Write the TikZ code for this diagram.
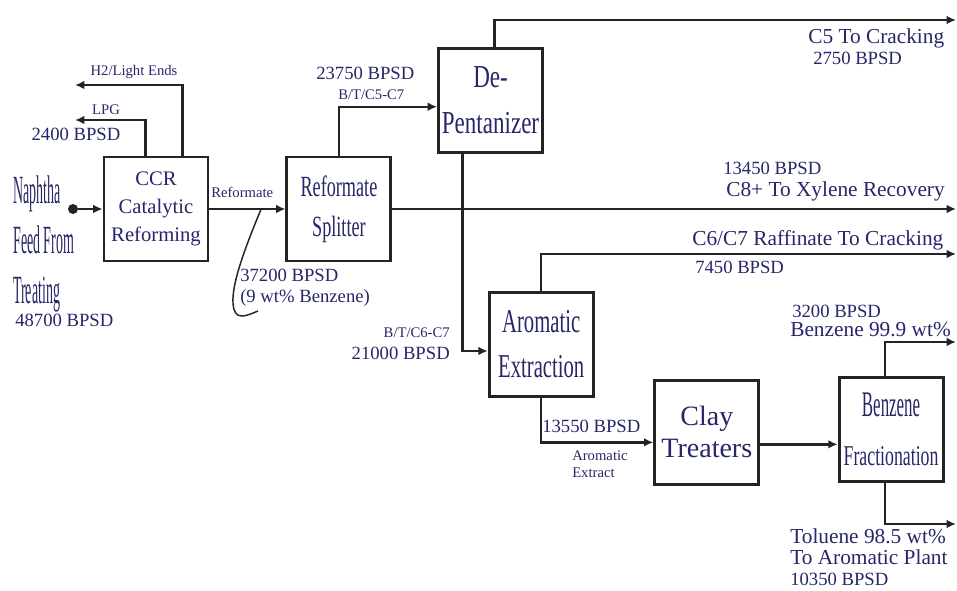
\documentclass[tikz,border=0pt]{standalone}
\usepackage{fontspec}
\setmainfont{Liberation Serif}
\newfontfamily\narrowfont[FakeStretch=0.62]{Liberation Serif}
\newfontfamily\midfont[FakeStretch=0.72]{Liberation Serif}
\newfontfamily\slimfont[FakeStretch=0.47]{Liberation Serif}
\newfontfamily\feedfont[FakeStretch=0.35]{Liberation Serif}
\usetikzlibrary{positioning,calc,arrows.meta}
\definecolor{ink}{RGB}{38,38,105}
\definecolor{pipe}{RGB}{35,35,35}
\tikzset{
	box/.style = {
		draw = pipe,
		fill = white,
		rectangle,
		line width = 2.2pt,
		text = ink,
		align = center,
		inner sep = 0pt,
		minimum height = 78pt,
		minimum width = 78pt
	},
	flow/.style = {
		draw = pipe,
		line width = 1.8pt,
		-{Latex[length=7pt,width=6.5pt]}
	},
	tag/.style = {text = ink, inner sep = 0pt, font = \fontsize{14}{16}\selectfont},
	stream/.style = {text = ink, inner sep = 0pt, font = \fontsize{16}{18}\selectfont},
	note/.style = {text = ink, inner sep = 0pt, font = \fontsize{11}{12.75}\selectfont}
}
\begin{document}
\begin{tikzpicture}[x=0.75pt, y=-0.75pt]
    \useasboundingbox (0,0) rectangle (957,591);

    \node [box, font=\fontsize{15.5}{21}\selectfont] (ccr) at (156,209) {CCR\\Catalytic\\Reforming} ;
    \node [box, right = 57pt of ccr, font=\narrowfont\fontsize{22}{30}\selectfont] (splitter) {Reformate\\Splitter} ;
    \node [box, above right = 1.5pt and 33.5pt of splitter, font=\midfont\fontsize{24}{35}\selectfont] (depent) {De-\\Pentanizer} ;
    \node [box, below = 103pt of depent, xshift = 38pt, font=\narrowfont\fontsize{25}{34}\selectfont] (extraction) {Aromatic\\Extraction} ;
    \node [box, right = 44pt of extraction, yshift = -66pt, font=\fontsize{21}{24}\selectfont] (clay) {Clay\\Treaters} ;
    \node [box, right = 58pt of clay, yshift = 2pt, font=\narrowfont\fontsize{21.5}{37}\selectfont] (benzene) {{\slimfont\fontsize{27}{37}\selectfont Benzene}\\Fractionation} ;

    \node [circle, fill=pipe, minimum size=7.5pt, inner sep=0pt] (feed) at (73,209) {} ;
    \coordinate (h2) at (75,85) ;
    \coordinate (lpg) at (75,120) ;
    \coordinate (c5) at (956,20) ;
    \coordinate (xylene) at (956,208) ;
    \coordinate (raffinate) at (956,254) ;
    \coordinate (bzout) at (956,342) ;
    \coordinate (tolout) at (956,524) ;
    \coordinate (tap) at ($(ccr.east)!.68!(splitter.west)$) ;
    \coordinate (tail) at (258,311) ;

    \draw [flow] (feed) -- (ccr) ;
    \draw [flow] ([xshift=20pt]ccr.north) |- (h2) ;
    \draw [flow] ([xshift=-8pt]ccr.north) |- (lpg) ;
    \draw [flow] (ccr) -- (splitter) ;
    \draw [flow] (splitter.north) |- ([yshift=-5pt]depent.west) ;
    \draw [flow] ([xshift=3pt]depent.north) |- (c5) ;
    \draw [flow] (splitter.east) -- (splitter.east -| xylene) ;
    \draw [flow] ([xshift=-21pt]depent.south) |- ([yshift=-5pt]extraction.west) ;
    \draw [flow] (extraction.north) |- (raffinate) ;
    \draw [flow] (extraction.south) |- ([yshift=-7.5pt]clay.west) ;
    \draw [flow] ([yshift=-9pt]clay.east) -- ([yshift=-9pt]clay.east -| benzene.west) ;
    \draw [flow] ([xshift=-4.5pt]benzene.north) |- (bzout) ;
    \draw [flow] ([xshift=-4.5pt]benzene.south) |- (tolout) ;
    \draw [pipe, line width=1.1pt] (tap) .. controls (242,255) and (232,285) .. (233,303) .. controls (234,322) and (246,316) .. (tail) ;

    \node [note] (h2lbl) at (134,72) {H2/Light Ends} ;
    \node [note] (lpglbl) at (106,110) {LPG} ;
    \node [tag] (lpgrate) at (76,134) {2400 BPSD} ;
    \node [font=\feedfont\fontsize{30}{37.5}\selectfont, text=ink, align=left, inner sep=0pt, anchor=north west] (feedlbl) at (13,175) {Naphtha\\Feed From\\Treating} ;
    \node [tag, anchor=base west] (feedrate) at (15,327) {48700 BPSD} ;
    \node [note, anchor=base west] (reflbl) at (211,198) {Reformate} ;
    \node [tag, anchor=base west] (splitrate) at (240,282) {37200 BPSD} ;
    \node [tag, anchor=base west] (splitbz) at (240,303) {(9 wt\% Benzene)} ;
    \node [tag, anchor=base west] (toprate) at (316,80) {23750 BPSD} ;
    \node [note, anchor=base west] (toplbl) at (338,100) {B/T/C5-C7} ;
    \node [stream, anchor=base west] (c5lbl) at (808,44) {C5 To Cracking} ;
    \node [tag, anchor=base west] (c5rate) at (813,65) {2750 BPSD} ;
    \node [tag, anchor=base west] (xylrate) at (723,175) {13450 BPSD} ;
    \node [stream, anchor=base west] (xyllbl) at (726,197) {C8+ To Xylene Recovery} ;
    \node [stream, anchor=base west] (raflbl) at (692,246) {C6/C7 Raffinate To Cracking} ;
    \node [tag, anchor=base west] (rafrate) at (695,274) {7450 BPSD} ;
    \node [note, anchor=base east] (extlbl) at (450,338) {B/T/C6-C7} ;
    \node [tag, anchor=base east] (extrate) at (450,360) {21000 BPSD} ;
    \node [tag, anchor=base west] (arorate) at (542,433) {13550 BPSD} ;
    \node [note, align=left, anchor=north west] (arolbl) at (572,451) {Aromatic\\Extract} ;
    \node [tag, anchor=base west] (bzrate) at (792,318) {3200 BPSD} ;
    \node [stream, anchor=base west] (bzlbl) at (790,337) {Benzene 99.9 wt\%} ;
    \node [stream, anchor=base west] (tollbl) at (790,543) {Toluene 98.5 wt\%} ;
    \node [stream, anchor=base west] (tolplant) at (790,564) {To Aromatic Plant} ;
    \node [tag, anchor=base west] (tolrate) at (790,585) {10350 BPSD} ;
\end{tikzpicture}
\end{document}
